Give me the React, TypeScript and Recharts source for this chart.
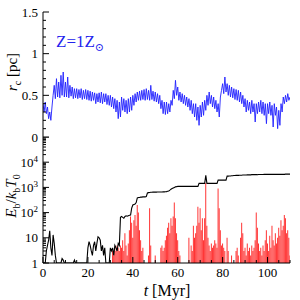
import React from 'react';
import { ComposedChart, Line, Bar, XAxis, YAxis } from 'recharts';

// sampling step of the time series, Myr
const T_STEP = 0.5;

// core radius r_c [pc], one value every 0.5 Myr from 0 to 110 Myr
const rcValues = [
  0.40, 0.30, 0.42, 0.28, 0.36, 0.22, 0.30, 0.20, 0.36, 0.50,
  0.62, 0.46, 0.70, 0.48, 0.66, 0.47, 0.74, 0.50, 0.78, 0.48,
  0.66, 0.48, 0.72, 0.47, 0.62, 0.49, 0.60, 0.46, 0.58, 0.47,
  0.58, 0.46, 0.57, 0.47, 0.58, 0.45, 0.56, 0.46, 0.57, 0.45,
  0.56, 0.44, 0.55, 0.43, 0.54, 0.44, 0.53, 0.40, 0.52, 0.42,
  0.53, 0.41, 0.54, 0.40, 0.52, 0.42, 0.52, 0.39, 0.50, 0.38,
  0.50, 0.36, 0.48, 0.34, 0.46, 0.30, 0.44, 0.22, 0.42, 0.24,
  0.48, 0.32, 0.46, 0.30, 0.44, 0.28, 0.46, 0.30, 0.48, 0.32,
  0.50, 0.38, 0.52, 0.42, 0.54, 0.44, 0.55, 0.44, 0.56, 0.45,
  0.57, 0.44, 0.58, 0.45, 0.56, 0.44, 0.62, 0.45, 0.55, 0.43,
  0.54, 0.42, 0.52, 0.40, 0.50, 0.34, 0.44, 0.28, 0.42, 0.27,
  0.42, 0.28, 0.40, 0.30, 0.44, 0.38, 0.56, 0.46, 0.68, 0.50,
  0.60, 0.44, 0.54, 0.42, 0.52, 0.40, 0.50, 0.38, 0.48, 0.36,
  0.46, 0.32, 0.44, 0.28, 0.40, 0.24, 0.40, 0.20, 0.36, 0.14,
  0.38, 0.24, 0.42, 0.26, 0.44, 0.32, 0.50, 0.38, 0.54, 0.40,
  0.50, 0.36, 0.48, 0.34, 0.44, 0.30, 0.40, 0.24, 0.48, 0.56,
  0.64, 0.52, 0.72, 0.54, 0.64, 0.50, 0.62, 0.48, 0.60, 0.47,
  0.58, 0.45, 0.57, 0.44, 0.56, 0.42, 0.54, 0.40, 0.50, 0.36,
  0.46, 0.30, 0.44, 0.32, 0.42, 0.28, 0.44, 0.30, 0.40, 0.18,
  0.40, 0.28, 0.42, 0.30, 0.44, 0.28, 0.42, 0.26, 0.40, 0.16,
  0.40, 0.28, 0.42, 0.26, 0.38, 0.12, 0.40, 0.26, 0.36, 0.10,
  0.32, 0.14, 0.40, 0.30, 0.48, 0.40, 0.50, 0.42, 0.52, 0.44,
  0.48,
];

// binding energy of the hardest binary, E_b / k_b T_0 (black)
const ebValues = [
  1, 1, 1, 3, 5, 8, 19, 4, 2, 13,
  6, 2, 1, 1, 1, 1, 1, 1.5, 1.3, 1,
  1, 1, 1, 1, 1, 1, 1, 1, 1.3, 1,
  1, 1, 1, 1, 1, 1, 1, 1, 1, 1,
  4, 7, 5, 3, 2, 5, 7, 3, 6, 11,
  10, 8, 3, 5, 2, 4, 1, 1, 1, 1,
  4, 3, 4, 2, 5, 4, 3, 6, 5, 65,
  70, 65, 60, 70, 75, 72, 75, 78, 80, 150,
  200, 210, 220, 250, 380, 400, 400, 410, 410, 420,
  420, 420, 430, 600, 620, 630, 640, 640, 650, 650,
  650, 650, 655, 655, 660, 660, 660, 665, 665, 670,
  680, 700, 720, 780, 850, 900, 950, 1000, 1050, 1070,
  1100, 1100, 1100, 1100, 1100, 1100, 1100, 1100, 1100, 1100,
  1100, 1100, 1100, 1100, 1100, 1100, 1100, 1100, 1100, 1450,
  1450, 1450, 1450, 1450, 1450, 3000, 1450, 1450, 1450, 1450,
  1450, 1450, 1450, 1450, 1450, 1450, 1950, 1950, 1950, 1950,
  1950, 1950, 1950, 1950, 2800, 2800, 2850, 2850, 2900, 2900,
  2950, 2950, 3000, 3000, 3000, 3050, 3050, 3050, 3100, 3100,
  3100, 3100, 3150, 3150, 3150, 3150, 3200, 3200, 3200, 3200,
  3200, 3200, 3250, 3250, 3250, 3250, 3250, 3300, 3300, 3300,
  3300, 3300, 3300, 3300, 3300, 3300, 3300, 3300, 3300, 3300,
  3300, 3300, 3300, 3300, 3300, 3300, 3350, 3350, 3350, 3350,
  3350,
];

// other binaries (red spikes); 1 means nothing drawn
const spikeValues = [
  1, 1, 1, 1, 1, 1, 1, 1, 1, 1,
  1, 1, 1, 1, 1, 1, 1, 1, 1, 1,
  1, 1, 1, 1, 1, 1, 1, 1, 1, 1,
  1, 1, 1, 1, 1, 1, 1, 1, 1, 1,
  1, 1, 1, 1, 1, 1, 1, 1, 1, 1,
  1, 1, 1, 1, 1, 1, 1, 1, 1, 1,
  1, 1, 3, 2, 4, 3, 5, 4, 3, 5,
  4, 8, 3, 15, 5, 2, 6, 20, 70, 40,
  10, 50, 80, 30, 200, 100, 20, 8, 3, 4,
  1, 1, 1, 1, 2, 150, 5, 1, 1, 1,
  2, 1, 1, 1, 1, 4, 5, 3, 4, 8,
  12, 25, 40, 15, 60, 30, 70, 250, 60, 15,
  8, 3, 2, 1, 1, 1, 1, 1, 1, 1,
  10, 1, 5, 3, 30, 10, 15, 30, 170, 40,
  150, 20, 60, 8, 60, 1500, 30, 10, 5, 3,
  6, 4, 5, 8, 6, 4, 900, 150, 20, 5,
  6, 4, 3, 1, 10, 3, 1, 1, 2, 1,
  1, 1, 3, 4, 2, 1, 10, 40, 15, 3,
  4, 2, 6, 3, 4, 2, 5, 3, 4, 8,
  100, 25, 6, 3, 4, 2, 5, 3, 8, 20,
  6, 3, 12, 4, 30, 8, 5, 15, 6, 10,
  25, 12, 50, 20, 30, 80, 60, 15, 20, 10,
  2,
];

const timeTicks = [0, 5, 10, 15, 20, 25, 30, 35, 40, 45, 50, 55, 60, 65, 70, 75, 80, 85, 90, 95, 100, 105, 110];
const timeLabels = [0, 20, 40, 60, 80, 100];
const rcTicks = [0, 0.1, 0.2, 0.3, 0.4, 0.5, 0.6, 0.7, 0.8, 0.9, 1, 1.1, 1.2, 1.3, 1.4, 1.5];
const rcLabels = [0, 0.5, 1, 1.5];
const ebDecades = [1, 10, 100, 1000, 10000];
const ebMantissas = [1, 2, 3, 4, 5, 6, 7, 8, 9];

const ebTicks = [...ebDecades.flatMap((d) => ebMantissas.map((m) => m * d)), 100000];

const data = rcValues.map((rc, i) => ({
  t: i * T_STEP,
  rc,
  eb: ebValues[i],
  spike: spikeValues[i] > 1 ? [1, spikeValues[i]] : null,
}));

const SERIF = "'Liberation Serif', 'DejaVu Serif', serif";
const W = 300;
const margin = { left: 0, right: 10 };

type Side = 'left' | 'right' | 'top' | 'bottom';

function makeTick(side: Side, isMajor: (v: number) => boolean, label?: (v: number) => React.ReactNode) {
  return (props: any) => {
    const { x, y, payload } = props;
    const v = payload.value;
    const len = isMajor(v) ? 6 : 3;
    let x2 = x;
    let y2 = y;
    if (side === 'left') x2 = x + len;
    if (side === 'right') x2 = x - len;
    if (side === 'bottom') y2 = y - len;
    if (side === 'top') y2 = y + len;
    const text = label ? label(v) : null;
    return (
      <g>
        <line x1={x} y1={y} x2={x2} y2={y2} stroke="#000" strokeWidth={1} />
        {text != null && side === 'left' && (
          <text x={x - 5} y={y} dy={4.5} textAnchor="end" fontSize={13} fontFamily={SERIF} fill="#000">
            {text}
          </text>
        )}
        {text != null && side === 'bottom' && (
          <text x={x} y={y + 14} textAnchor="middle" fontSize={13} fontFamily={SERIF} fill="#000">
            {text}
          </text>
        )}
      </g>
    );
  };
}

const isTimeMajor = (v: number) => timeLabels.includes(v);
const isRcMajor = (v: number) => rcLabels.includes(v);
const isEbMajor = (v: number) => ebDecades.includes(v) || v === 100000;

const rcLabel = (v: number) => (rcLabels.includes(v) ? String(v) : null);
const timeLabel = (v: number) => (timeLabels.includes(v) ? String(v) : null);
const ebLabel = (v: number) => {
  if (!ebDecades.includes(v)) return null;
  if (v < 100) return String(v);
  return (
    <>
      10<tspan dy={-5} fontSize={9}>{Math.round(Math.log10(v))}</tspan>
    </>
  );
};

export default function App() {
  return (
    <div style={{ position: 'absolute', left: 0, top: 0, width: W, height: 300, background: '#fff' }}>
      <div style={{ position: 'absolute', left: 0, top: 0 }}>
        <ComposedChart width={W} height={145} data={data} margin={{ top: 12, bottom: 8, ...margin }}>
          <XAxis dataKey="t" type="number" domain={[0, 110]} ticks={timeTicks} interval={0}
            height={0} tickSize={0} tickMargin={0} axisLine={{ stroke: '#000' }} tickLine={false}
            tick={makeTick('bottom', isTimeMajor)} allowDataOverflow />
          <XAxis xAxisId="top" orientation="top" dataKey="t" type="number" domain={[0, 110]} ticks={timeTicks}
            interval={0} height={0} tickSize={0} tickMargin={0} axisLine={{ stroke: '#000' }} tickLine={false}
            tick={makeTick('top', isTimeMajor)} allowDataOverflow />
          <YAxis domain={[0, 1.5]} ticks={rcTicks} interval={0} width={43} tickSize={0} tickMargin={0}
            axisLine={{ stroke: '#000' }} tickLine={false} tick={makeTick('left', isRcMajor, rcLabel)} allowDataOverflow />
          <YAxis yAxisId="right" orientation="right" domain={[0, 1.5]} ticks={rcTicks} interval={0} width={0}
            tickSize={0} tickMargin={0} axisLine={{ stroke: '#000' }} tickLine={false}
            tick={makeTick('right', isRcMajor)} />
          <Line dataKey="rc" type="linear" stroke="#2020ff" strokeWidth={0.9} dot={false} isAnimationActive={false} />
        </ComposedChart>
      </div>
      <div style={{ position: 'absolute', left: 0, top: 137 }}>
        <ComposedChart width={W} height={163} data={data} margin={{ top: 0, bottom: 0, ...margin }}>
          <XAxis dataKey="t" type="number" domain={[0, 110]} ticks={timeTicks} interval={0}
            height={37} tickSize={0} tickMargin={0} axisLine={{ stroke: '#000' }} tickLine={false}
            tick={makeTick('bottom', isTimeMajor, timeLabel)} allowDataOverflow />
          <XAxis xAxisId="top" orientation="top" dataKey="t" type="number" domain={[0, 110]} ticks={timeTicks}
            interval={0} height={0} tickSize={0} tickMargin={0} axisLine={{ stroke: '#000' }} tickLine={false}
            tick={makeTick('top', isTimeMajor)} allowDataOverflow />
          <YAxis scale="log" domain={[1, 100000]} ticks={ebTicks} interval={0} width={43} tickSize={0}
            tickMargin={0} axisLine={{ stroke: '#000' }} tickLine={false} tick={makeTick('left', isEbMajor, ebLabel)}
            allowDataOverflow />
          <YAxis yAxisId="right" orientation="right" scale="log" domain={[1, 100000]} ticks={ebTicks} interval={0}
            width={0} tickSize={0} tickMargin={0} axisLine={{ stroke: '#000' }} tickLine={false}
            tick={makeTick('right', isEbMajor)} allowDataOverflow />
          <Bar dataKey="spike" fill="#ff0000" fillOpacity={0.8} barSize={1} isAnimationActive={false} />
          <Line dataKey="eb" type="linear" stroke="#000" strokeWidth={1.1} dot={false} isAnimationActive={false} />
        </ComposedChart>
      </div>
      <svg width={W} height={300} style={{ position: 'absolute', left: 0, top: 0, pointerEvents: 'none' }}
        fontFamily={SERIF}>
        <text x={56} y={47} fontSize={17} fill="#2323ee">
          Z=1Z<tspan fontSize={11} dy={4}>⊙</tspan>
        </text>
        <text transform="translate(17,72) rotate(-90)" textAnchor="middle" fontSize={15} fill="#000">
          <tspan fontStyle="italic">r</tspan>
          <tspan fontSize={10} dy={4}>c</tspan>
          <tspan dy={-4}>{'  [pc]'}</tspan>
        </text>
        <text transform="translate(16,196) rotate(-90)" textAnchor="middle" fontSize={15} fill="#000">
          <tspan fontStyle="italic">E</tspan>
          <tspan fontSize={10} dy={4}>b</tspan>
          <tspan dy={-4}>/</tspan>
          <tspan fontStyle="italic">k</tspan>
          <tspan fontSize={10} dy={4}>b</tspan>
          <tspan fontStyle="italic" dy={-4}>T</tspan>
          <tspan fontSize={10} dy={4}>0</tspan>
        </text>
        <text x={167} y={296} textAnchor="middle" fontSize={16} fill="#000">
          <tspan fontStyle="italic">t</tspan>
          <tspan>{'  [Myr]'}</tspan>
        </text>
      </svg>
    </div>
  );
}
